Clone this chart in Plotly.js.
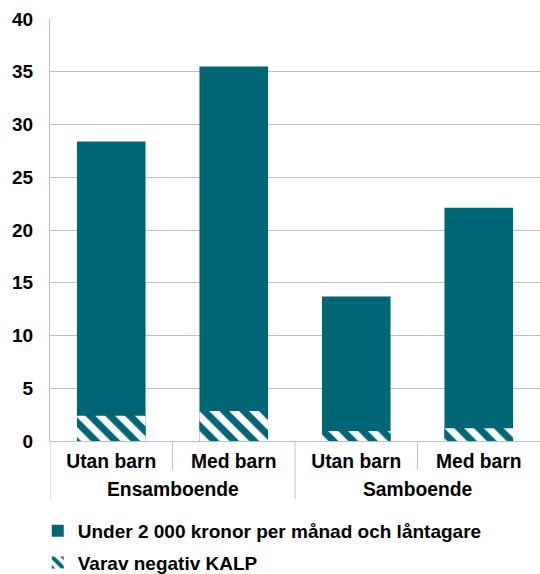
<!DOCTYPE html>
<html><head><meta charset="utf-8">
<script src="https://cdn.plot.ly/plotly-3.0.1.min.js"></script>
<style>html,body{margin:0;padding:0;background:#fff;}#chart{width:540px;height:574px;}</style>
</head><body><div id="chart"></div>
<script>
const groups = ["Ensamboende","Ensamboende","Samboende","Samboende"];
const subcats = ["Utan barn","Med barn","Utan barn","Med barn"];
const under2000 = [28.4, 35.5, 13.7, 22.1];
const negKALP = [2.4, 2.85, 0.95, 1.2];
const seriesNames = ["Under 2 000 kronor per månad och låntagare","Varav negativ KALP"];
const yTicks = [0,5,10,15,20,25,30,35,40];

const teal = "#006676";
const grid = "#bfbfbf";
const font = {family: "Liberation Sans, Arial, sans-serif", size: 19, color: "#000", weight: "bold"};
const xfont = {...font, size: 19.3};
const plotH = 574 - 19 - 133;
const idx = subcats.map((_, i) => i);

// group spans derived from the groups array
const groupNames = [...new Set(groups)];
const spans = groupNames.map(g => {
  const ii = idx.filter(i => groups[i] === g);
  return {name: g, start: Math.min(...ii) - 0.5, end: Math.max(...ii) + 0.5};
});

const data = [
  {type:"bar", x:idx, y:under2000, name:seriesNames[0], width:0.56, legendgroup:"a",
   marker:{color:teal, line:{width:0}}},
  {type:"bar", x:idx, y:negKALP, name:seriesNames[1], width:0.56, legendgroup:"b",
   marker:{color:teal, line:{width:0}, pattern:{shape:"\\", bgcolor:"#ffffff", fgcolor:teal, size:14, solidity:0.5, fillmode:"replace"}}}
];

const shapes = [];
spans.forEach(s => {
  shapes.push({type:"line", xref:"x", yref:"paper", x0:s.start, x1:s.start, y0:0, y1:-58/plotH, line:{color:grid, width:1}});
});
idx.slice(1).forEach(i => {
  if (groups[i] === groups[i-1]) shapes.push({type:"line", xref:"x", yref:"paper", x0:i-0.5, x1:i-0.5, y0:0, y1:-29/plotH, line:{color:grid, width:1}});
});

const annotations = spans.map(s => ({text:s.name, x:(s.start + s.end)/2, xref:"x", y:-49/plotH, yref:"paper", yanchor:"middle", xanchor:"center", showarrow:false, font:xfont}));

const layout = {
  width:540, height:574,
  margin:{l:50, r:0, t:19, b:133, autoexpand:false},
  barmode:"overlay",
  paper_bgcolor:"#fff", plot_bgcolor:"#fff",
  font: font,
  showlegend:true,
  legend:{orientation:"v", x:-0.025, xanchor:"left", y:-0.334, yanchor:"bottom", font:font, traceorder:"grouped", tracegroupgap:4, itemwidth:30},
  xaxis:{range:[-0.5, 3.5], tickvals:idx, ticktext:subcats, automargin:false, showline:true, linecolor:grid, linewidth:1, tickfont:xfont, ticks:"", showgrid:false, zeroline:false, ticklabelstandoff:3},
  yaxis:{range:[0,40], automargin:false, tickvals:yTicks, ticktext:yTicks.map(String), showgrid:true, gridcolor:grid, gridwidth:1, showline:true, linecolor:grid, tickfont:font, ticks:"", zeroline:false, ticklabelstandoff:12},
  shapes: shapes,
  annotations: annotations
};
Plotly.newPlot("chart", data, layout, {displayModeBar:false, staticPlot:true});
</script></body></html>
